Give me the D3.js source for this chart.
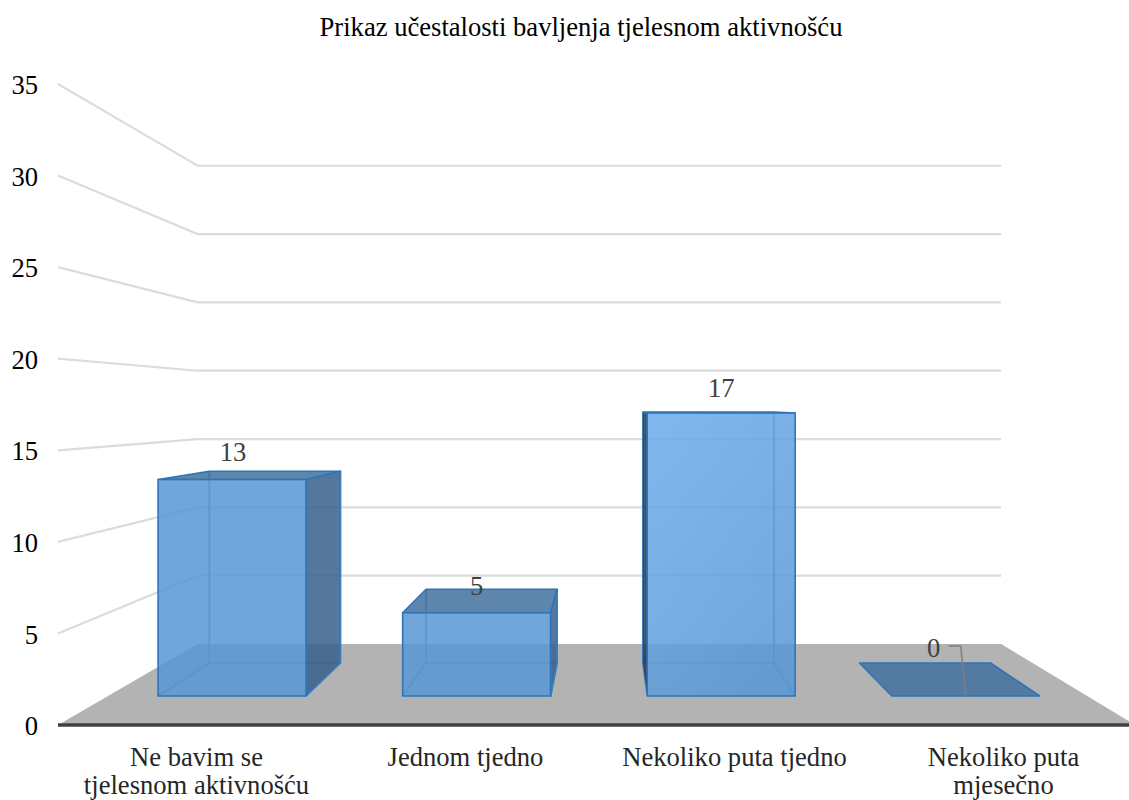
<!DOCTYPE html>
<html>
<head>
<meta charset="utf-8">
<script src="https://cdn.jsdelivr.net/npm/d3@7"></script>
<style>
  html, body { margin: 0; padding: 0; background: #fff; }
  svg { display: block; font-family: "Liberation Serif", serif; }
</style>
</head>
<body>
<div id="chart"></div>
<script>
const title = 'Prikaz učestalosti bavljenja tjelesnom aktivnošću';
const categories = ['Ne bavim se tjelesnom aktivnošću', 'Jednom tjedno', 'Nekoliko puta tjedno', 'Nekoliko puta mjesečno'];
const categoryLines = [['Ne bavim se', 'tjelesnom aktivnošću'], ['Jednom tjedno'], ['Nekoliko puta tjedno'], ['Nekoliko puta', 'mjesečno']];
const values = [13, 5, 17, 0];
const yTicks = [0, 5, 10, 15, 20, 25, 30, 35];

const width = 1129, height = 800;

// the excel 3d look: everything goes through one vanishing point
const vanish = { x: 608, y: 406 };
const y = d3.scaleLinear().domain([0, 35]).range([725, 84]);
const floorY = d3.scaleLinear().domain([0, 1]).range([725, 644]);
const x = d3.scaleBand().domain(categories).range([60, 1136]).paddingInner(0.395).paddingOuter(0.1975);

const zFront = (725 - 696) / 81, zBack = (725 - 663) / 81;
const wallL = 58, wallR = 1135;

function project(wx, v, z) {
    const s = (floorY(z) - vanish.y) / (y(0) - vanish.y);
    return [vanish.x + (wx - vanish.x) * s, vanish.y + (y(v) - vanish.y) * s];
}

const path = d3.line();
const closed = pts => path(pts) + 'Z';

const svg = d3.select('#chart').append('svg')
    .attr('width', width)
    .attr('height', height);

const defs = svg.append('defs');
const lit = defs.append('linearGradient').attr('id', 'lit')
    .attr('x1', 0.2).attr('y1', 0).attr('x2', 0.8).attr('y2', 1);
lit.append('stop').attr('offset', 0).attr('stop-color', '#6aaae8');
lit.append('stop').attr('offset', 1).attr('stop-color', '#5796d3');

svg.append('text')
    .attr('x', 581)
    .attr('y', 36)
    .attr('text-anchor', 'middle')
    .attr('fill', '#000')
    .style('font-size', '26.6px')
    .text(title);

// floor
svg.append('path')
    .attr('d', closed([project(wallL, 0, 0), project(wallL, 0, 1), project(wallR, 0, 1), project(wallR, 0, 0)]))
    .attr('fill', '#b3b3b3');

// gridlines run along the left wall and then the back wall
svg.append('g').selectAll('path')
    .data(yTicks.filter(d => d > 0))
    .enter().append('path')
    .attr('d', d => path([project(wallL, d, 0), project(wallL, d, 1), project(wallR, d, 1)]))
    .attr('fill', 'none')
    .attr('stroke', '#dcdcdc')
    .attr('stroke-width', 2.2);

const bars = svg.append('g').selectAll('g')
    .data(categories.map((c, i) => ({ c, v: values[i] })))
    .enter().append('g');

bars.each(function (d) {
    const g = d3.select(this);
    const x0 = x(d.c), x1 = x0 + x.bandwidth();
    const fbl = project(x0, 0, zFront), fbr = project(x1, 0, zFront);
    const ftl = project(x0, d.v, zFront), ftr = project(x1, d.v, zFront);
    const bbl = project(x0, 0, zBack), bbr = project(x1, 0, zBack);
    const btl = project(x0, d.v, zBack), btr = project(x1, d.v, zBack);

    const face = (pts, fill, stroke) => g.append('path')
        .attr('d', closed(pts))
        .attr('fill', fill)
        .attr('fill-opacity', 0.85)
        .attr('stroke', stroke)
        .attr('stroke-width', 1.6)
        .attr('stroke-linejoin', 'round');

    if (d.v > 0) {
        // hidden edges, seen through the front
        g.append('path')
            .attr('d', path([btl, bbl, bbr, btr]) + path([fbl, bbl]) + path([fbr, bbr]))
            .attr('fill', 'none')
            .attr('stroke', '#4a90d2')
            .attr('stroke-width', 1.6);
        if (bbr[0] > fbr[0]) face([fbr, bbr, btr, ftr], '#375f8a', '#3a7fc1');
        if (bbl[0] < fbl[0]) face([fbl, bbl, btl, ftl], '#1b3a5a', 'none');
    }
    face([ftl, btl, btr, ftr], '#42709c', '#2e75b6');
    if (d.v > 0) {
        const shaded = bbl[0] < fbl[0];
        face([fbl, ftl, ftr, fbr], shaded ? 'url(#lit)' : '#5796d3', '#2e75b6');
    }
});

// front axis line on top of the floor
svg.append('line')
    .attr('x1', 58).attr('x2', width)
    .attr('y1', y(0)).attr('y2', y(0))
    .attr('stroke', '#404040')
    .attr('stroke-width', 3.5);

const yAxis = svg.append('g')
    .attr('transform', 'translate(58,0)')
    .call(d3.axisLeft(y).tickValues(yTicks).tickSize(0).tickPadding(20));
yAxis.select('.domain').remove();
yAxis.selectAll('text')
    .attr('fill', '#000')
    .attr('dy', '0.36em')
    .style('font-family', '"Liberation Serif", serif')
    .style('font-size', '26.6px');

// category labels
const catLabels = svg.append('g').selectAll('text')
    .data(categories)
    .enter().append('text')
    .attr('text-anchor', 'middle')
    .attr('y', 765.5)
    .attr('fill', '#262626')
    .style('font-size', '26.6px');
catLabels.selectAll('tspan')
    .data((d, i) => categoryLines[i].map(t => ({ t, c: d })))
    .enter().append('tspan')
    .attr('x', d => x(d.c) + x.bandwidth() / 2 + 2)
    .attr('dy', (d, i) => i ? 28.8 : 0)
    .text(d => d.t);

// data labels sit just above the back top edge, moved by hand like in the original
const labelShift = [[1, -10], [0, 6], [0, -15], [-32, -6]];
svg.append('g').selectAll('text')
    .data(values)
    .enter().append('text')
    .attr('x', (d, i) => project(x(categories[i]) + x.bandwidth() / 2, 0, zFront)[0] + labelShift[i][0])
    .attr('y', (d, i) => project(0, d, zBack)[1] + labelShift[i][1])
    .attr('text-anchor', 'middle')
    .attr('fill', '#404040')
    .style('font-size', '26.6px')
    .text(d => d);

// leader from the 0 label down to its bar
const lastBar = x(categories[3]) + x.bandwidth() / 2;
const anchor = project(lastBar, 0, zFront);
svg.append('path')
    .attr('d', path([[anchor[0] - 17, 646], [anchor[0] - 5, 646], anchor]))
    .attr('fill', 'none')
    .attr('stroke', '#7f7f7f')
    .attr('stroke-width', 1.5);
</script>
</body>
</html>
